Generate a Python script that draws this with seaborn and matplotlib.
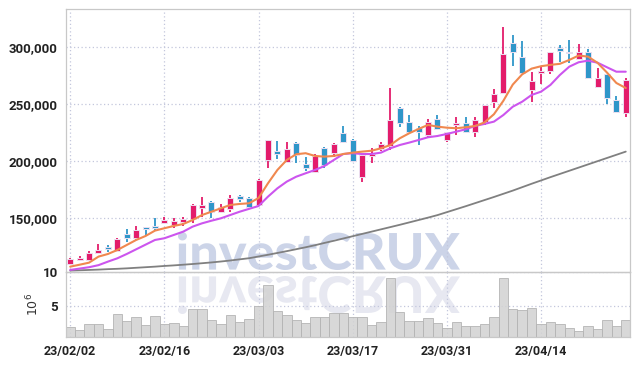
import numpy as np
import pandas as pd
import matplotlib
matplotlib.use('Agg')
import matplotlib.pyplot as plt
import seaborn as sns
from matplotlib.textpath import TextPath
from matplotlib.patches import PathPatch
from matplotlib.font_manager import FontProperties
from matplotlib.transforms import Affine2D
from matplotlib.ticker import FuncFormatter

# x tick labels (trading-day index 0..59)
tick_pos = [0, 10, 20, 30, 40, 50]
tick_labels = ['23/02/02', '23/02/16', '23/03/03', '23/03/17', '23/03/31', '23/04/14']

opens = [110000, 113400, 113500, 119600, 124300, 121300, 136000, 132800, 142100, 143000,
         146000, 143600, 146500, 148800, 159000, 164400, 155600, 157600, 169600, 167500,
         161400, 200900, 209000, 199400, 215800, 197400, 190600, 211100, 207300, 224300,
         218400, 185700, 204400, 210300, 213200, 246200, 234200, 229200, 223100, 236600,
         218400, 231600, 233000, 225200, 234200, 252000, 259400, 303800, 291200, 262300,
         277500, 279200, 299100, 295600, 289500, 295300, 265200, 276000, 253500, 242400]
highs = [115000, 116400, 120800, 127200, 126000, 132500, 140100, 143000, 142500, 149700,
         150600, 149700, 151200, 162300, 168200, 165000, 162300, 170400, 170400, 168500,
         184200, 218400, 217500, 216400, 216900, 203800, 206100, 212000, 215500, 231000,
         219000, 205800, 211100, 216700, 263800, 247100, 240300, 230700, 236600, 240300,
         225500, 238300, 238800, 238300, 249000, 262900, 317800, 310500, 305500, 278300,
         282700, 296000, 301800, 306100, 302600, 298000, 281300, 276500, 257000, 272500]
lows = [109000, 112000, 113000, 119000, 120200, 121000, 128700, 130700, 134800, 139200,
        144700, 141000, 143000, 145300, 151200, 150300, 154100, 155600, 164300, 158000,
        160800, 193600, 201500, 199000, 198000, 191500, 190000, 193600, 203800, 215500,
        199400, 181900, 198000, 209000, 209600, 230100, 224300, 214000, 221300, 227000,
        216400, 222800, 224200, 220800, 231600, 246200, 258500, 283300, 276300, 251500,
        267500, 276000, 287100, 285700, 289000, 273100, 265000, 249700, 243300, 238900]
closes = [114000, 115200, 119300, 122200, 122500, 131600, 132500, 139200, 140400, 141200,
          148200, 147400, 148800, 161700, 161700, 155600, 159900, 167500, 166700, 159900,
          183300, 218400, 206400, 210500, 205300, 193900, 204400, 196500, 214600, 216900,
          200300, 205300, 206100, 214900, 236000, 233600, 225700, 225400, 234000, 227800,
          225200, 233300, 225200, 236000, 248800, 258800, 293600, 295900, 276900, 270200,
          278900, 295600, 296700, 294700, 295300, 273100, 272500, 255000, 243300, 271100]

ma_short = [107300, 109000, 110800, 116100, 118400, 121900, 126300, 130700, 134200, 138900,
            141000, 143000, 144700, 148200, 152600, 155500, 158500, 161400, 162300, 162900,
            167500, 180400, 192100, 200900, 205900, 206800, 204400, 203800, 204400, 206100,
            207300, 208200, 209000, 211100, 214000, 219900, 224300, 228100, 231600, 230100,
            229200, 228700, 229600, 230700, 233800, 241000, 252800, 267000, 276000, 281000,
            283100, 284300, 285200, 288600, 292500, 291500, 286100, 277600, 268400, 264000]
ma_mid = [104400, 105600, 106800, 108600, 111700, 114600, 118400, 122500, 126600, 130700,
          132200, 135100, 138000, 142400, 145300, 147600, 149700, 152600, 155500, 158000,
          160500, 168700, 176000, 181900, 186200, 189200, 192100, 195600, 200900, 206100,
          206800, 206100, 206100, 207300, 211100, 214000, 216100, 218400, 220800, 221900,
          223700, 225700, 227800, 230700, 232500, 234500, 240300, 247600, 252000, 257900,
          260800, 266700, 275400, 282700, 286600, 288000, 286200, 282200, 278300, 278300]
ma_long = [103800, 104100, 104400, 104700, 105100, 105400, 105800, 106300, 106800, 107300,
           107900, 108400, 109000, 109600, 110300, 111000, 111800, 112700, 113700, 114700,
           116200, 117700, 119300, 120900, 122600, 124300, 126100, 128100, 130000, 132000,
           134000, 136000, 138000, 140000, 142000, 144000, 146100, 148200, 150300, 152500,
           155100, 157700, 160300, 163000, 165700, 168400, 171200, 174000, 177000, 180000,
           182900, 185800, 188600, 191400, 194200, 197000, 199800, 202600, 205400, 208200]

# volume in millions
volume = [1.97, 1.47, 2.41, 2.41, 1.67, 3.88, 2.85, 3.44, 2.26, 3.59,
          2.41, 2.56, 2.12, 4.62, 4.62, 3.00, 2.46, 3.73, 2.75, 3.14,
          5.00, 8.04, 4.37, 3.78, 3.00, 2.56, 3.44, 3.44, 4.03, 4.03,
          3.44, 3.44, 2.26, 2.70, 9.17, 4.17, 2.85, 2.85, 3.34, 2.56,
          1.87, 2.70, 2.06, 2.16, 2.41, 3.44, 9.17, 4.66, 4.47, 4.76,
          2.41, 2.70, 2.41, 1.87, 1.38, 2.12, 1.67, 3.00, 2.16, 3.00]

UP = '#e31c6b'
DOWN = '#2f96c9'
GRID = '#c3c7dc'

df = pd.DataFrame({'day': np.arange(len(opens)), 'open': opens, 'high': highs,
                   'low': lows, 'close': closes, 'ma_short': ma_short,
                   'ma_mid': ma_mid, 'ma_long': ma_long, 'volume': volume})

sns.set_style('whitegrid')
plt.rcParams['font.family'] = ['Roboto', 'DejaVu Sans']

W, H = 639, 366
fig = plt.figure(figsize=(W / 100, H / 100), dpi=100)
ax = fig.add_axes([66 / W, 1 - 272 / H, 564 / W, 263 / H])
axv = fig.add_axes([66 / W, 1 - 337 / H, 564 / W, 65 / H], sharex=ax)

# watermark with reflection, behind everything
fp = FontProperties(family='Lato', weight=900)
tp = TextPath((0, 0), 'investCRUX', prop=fp, size=1)
ext = tp.get_extents()
sx = 282 / ext.width
sy = 38 / ext.height
tr_main = Affine2D().translate(-ext.x0, -ext.y0).scale(sx, sy).translate(178, H - 270)
tr_refl = Affine2D().translate(-ext.x0, -ext.y0).scale(sx, -sy).translate(178, H - 276)
fig.add_artist(PathPatch(tp, transform=tr_main, facecolor='#ccd4e8', edgecolor='none', zorder=-1))
fig.add_artist(PathPatch(tp, transform=tr_refl, facecolor='#e7e8f1', edgecolor='none', zorder=-1))

for a in (ax, axv):
    a.patch.set_visible(False)
    a.grid(True, linestyle=(0, (1, 2)), color=GRID, linewidth=0.9)
    for s in a.spines.values():
        s.set_color('#c8c8c8')
        s.set_linewidth(0.9)
    a.tick_params(length=0, colors='#222222')

# candles
up = df['close'] >= df['open']
colors = np.where(up, UP, DOWN)
ax.vlines(df['day'], df['low'], df['high'], colors=colors, linewidth=1.3, zorder=3)
ax.bar(df['day'], (df['close'] - df['open']).abs(), bottom=df[['open', 'close']].min(axis=1),
       width=0.64, color=colors, edgecolor='#ecdff0', linewidth=0.7, zorder=4)

# moving averages
sns.lineplot(data=df, x='day', y='ma_long', ax=ax, color='#808080', linewidth=1.3, zorder=2)
sns.lineplot(data=df, x='day', y='ma_mid', ax=ax, color='#cc55ee', linewidth=1.5, zorder=5)
sns.lineplot(data=df, x='day', y='ma_short', ax=ax, color='#f0884f', linewidth=1.5, zorder=6)

ax.set_ylim(102600, 333300)
ax.set_xlim(-0.45, 59.45)
ax.set_yticks([150000, 200000, 250000, 300000])
ax.yaxis.set_major_formatter(FuncFormatter(lambda v, p: f'{v:,.0f}'))
ax.set_xlabel('')
ax.set_ylabel('')
ax.tick_params(axis='x', labelbottom=False)
ax.tick_params(axis='y', labelsize=9.5, pad=6)
for t in ax.get_yticklabels():
    t.set_fontweight('bold')

# volume
axv.bar(df['day'], df['volume'], width=1.0, color='#d2d2d2', edgecolor='#b4b4b4',
        linewidth=0.7, alpha=0.85, zorder=2)
axv.set_ylim(0.5, 10.0)
axv.set_yticks([5, 10])
axv.set_yticklabels(['5', '10'], fontweight='bold')
axv.set_xticks(tick_pos)
axv.set_xticklabels(tick_labels, fontweight='bold')
axv.tick_params(axis='x', labelsize=9, pad=6)
axv.tick_params(axis='y', labelsize=9.5, pad=6)
axv.set_xlabel('')
axv.set_ylabel('$10^6$', fontsize=9, color='#333333', labelpad=1)

fig.savefig('out.png', dpi=100)
